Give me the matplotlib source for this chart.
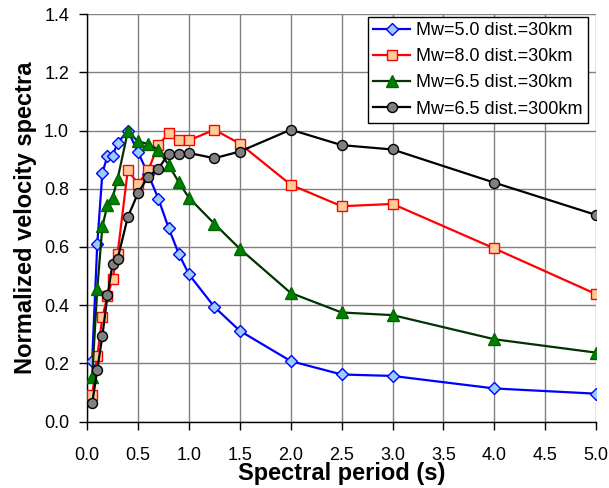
import matplotlib
matplotlib.use("Agg")
import matplotlib.pyplot as plt

plt.rcParams['font.family'] = ['Liberation Sans', 'DejaVu Sans']

periods = [0.05, 0.1, 0.15, 0.2, 0.25, 0.3, 0.4, 0.5, 0.6, 0.7, 0.8, 0.9, 1.0,
           1.25, 1.5, 2.0, 2.5, 3.0, 4.0, 5.0]

mw50_30km = [0.21, 0.61, 0.855, 0.912, 0.914, 0.957, 1.0, 0.926, 0.85, 0.766, 0.666, 0.577, 0.506,
             0.394, 0.312, 0.208, 0.162, 0.157, 0.114, 0.096]
mw80_30km = [0.09, 0.225, 0.36, 0.43, 0.491, 0.577, 0.865, 0.817, 0.863, 0.951, 0.99, 0.966, 0.966,
             1.003, 0.955, 0.814, 0.74, 0.748, 0.595, 0.438]
mw65_30km = [0.155, 0.455, 0.671, 0.743, 0.769, 0.834, 0.997, 0.963, 0.954, 0.934, 0.882, 0.823, 0.769,
             0.68, 0.594, 0.442, 0.375, 0.366, 0.283, 0.237]
mw65_300km = [0.063, 0.179, 0.294, 0.434, 0.541, 0.56, 0.703, 0.785, 0.842, 0.869, 0.92, 0.92, 0.923,
              0.905, 0.928, 1.003, 0.95, 0.935, 0.821, 0.71]

labels = ['Mw=5.0 dist.=30km', 'Mw=8.0 dist.=30km', 'Mw=6.5 dist.=30km', 'Mw=6.5 dist.=300km']

fig = plt.figure(figsize=(6.09, 4.88), dpi=100)
ax = fig.add_axes([0.143, 0.136, 0.836, 0.835])

ax.plot(periods, mw50_30km, '-', color='#0000ff', lw=1.6, marker='D', ms=5.8,
        mfc='#99ccff', mec='#0000ff', mew=1.0, label=labels[0], zorder=3)
ax.plot(periods, mw80_30km, '-', color='#ff0000', lw=1.6, marker='s', ms=7.2,
        mfc='#ffcc99', mec='#ff0000', mew=1.0, label=labels[1], zorder=3)
ax.plot(periods, mw65_30km, '-', color='#003300', lw=1.6, marker='^', ms=8,
        mfc='#008000', mec='#006600', mew=1.0, label=labels[2], zorder=3)
ax.plot(periods, mw65_300km, '-', color='#000000', lw=1.6, marker='o', ms=7.2,
        mfc='#808080', mec='#000000', mew=1.0, label=labels[3], zorder=3)

ax.set_xlim(0, 5)
ax.set_ylim(0, 1.4)
ax.set_xticks([i * 0.5 for i in range(11)])
ax.set_yticks([i * 0.2 for i in range(8)])
ax.xaxis.set_major_formatter(matplotlib.ticker.FormatStrFormatter('%.1f'))
ax.yaxis.set_major_formatter(matplotlib.ticker.FormatStrFormatter('%.1f'))

ax.grid(True, color='#808080', lw=1.0)
ax.set_axisbelow(True)
for s in ['top', 'right']:
    ax.spines[s].set_visible(False)
for s in ['left', 'bottom']:
    ax.spines[s].set_color('black')
    ax.spines[s].set_linewidth(1.0)
ax.tick_params(direction='out', length=6, width=1, labelsize=13)
ax.tick_params(axis='x', pad=12)
ax.tick_params(axis='y', pad=7)

ax.set_xlabel('Spectral period (s)', fontsize=17, fontweight='bold', labelpad=-1)
ax.set_ylabel('Normalized velocity spectra', fontsize=17, fontweight='bold', labelpad=5)

leg = ax.legend(loc='upper right', bbox_to_anchor=(0.984, 0.993), borderaxespad=0,
                fontsize=13, frameon=True, fancybox=False,
                edgecolor='black', framealpha=1,
                handlelength=2.05, handletextpad=0.33, labelspacing=0.5, borderpad=0.3)
leg.get_frame().set_linewidth(1.0)

fig.savefig('out.png', dpi=100)
plt.close(fig)
